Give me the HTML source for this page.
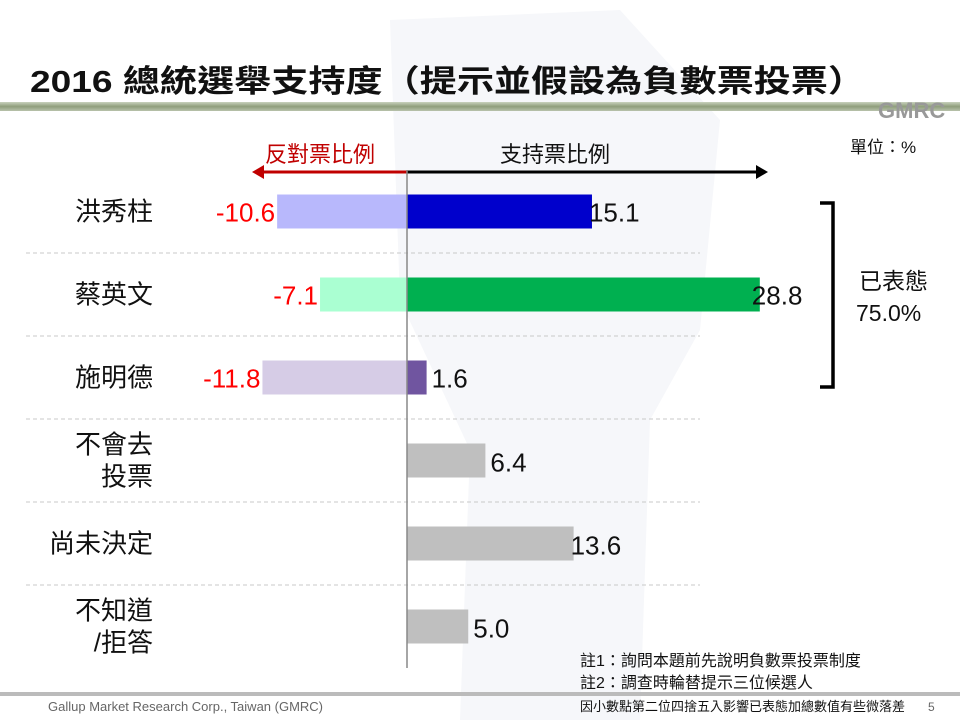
<!DOCTYPE html>
<html><head><meta charset="utf-8">
<style>
body{margin:0;width:960px;height:720px;overflow:hidden;background:#fff;font-family:"Liberation Sans","Noto Sans CJK TC",sans-serif;}
svg text{font-family:"Liberation Sans","Noto Sans CJK TC",sans-serif;}
</style></head>
<body>
<svg id="chart" width="960" height="720" xmlns="http://www.w3.org/2000/svg">
<defs>
<linearGradient id="bar" x1="0" y1="0" x2="0" y2="1">
<stop offset="0" stop-color="#c9d2bd"/><stop offset="0.5" stop-color="#8f9e7c"/><stop offset="1" stop-color="#b8c2ab"/>
</linearGradient>
</defs>
<g fill="#f6f7fa">
<path d="M390 20 L620 10 L720 120 L700 330 L650 420 L640 720 L460 720 L470 450 L400 300 Z"/>
</g>
<text x="30" y="92" font-size="31" font-weight="bold" fill="#111" textLength="835" lengthAdjust="spacingAndGlyphs">2016 總統選舉支持度（提示並假設為負數票投票）</text>
<rect x="0" y="102" width="960" height="9" fill="url(#bar)"/>
<text x="878" y="118" font-size="22" font-weight="bold" fill="#999">GMRC</text>
<text x="850" y="153" font-size="17" fill="#111">單位：%</text>
<text x="265" y="162" font-size="22" fill="#c00000">反對票比例</text>
<text x="500" y="162" font-size="22" fill="#111">支持票比例</text>
<line x1="407" y1="172" x2="262" y2="172" stroke="#c00000" stroke-width="3"/>
<path d="M252 172 L264 165 L264 179 Z" fill="#c00000"/>
<line x1="407" y1="172" x2="758" y2="172" stroke="#000" stroke-width="3"/>
<path d="M768 172 L756 165 L756 179 Z" fill="#000"/>
<g id="plot"></g>
<path d="M820 203 L833 203 L833 387 L820 387" fill="none" stroke="#000" stroke-width="3.5"/>
<text x="859" y="289" font-size="23" fill="#111">已表態</text>
<text x="856" y="321" font-size="23" fill="#111">75.0%</text>
<text x="580" y="666" font-size="16" fill="#111">註1：詢問本題前先說明負數票投票制度</text>
<text x="580" y="688" font-size="16" fill="#111">註2：調查時輪替提示三位候選人</text>
<rect x="0" y="692" width="960" height="4" fill="#bbb"/>
<text x="48" y="711" font-size="13" fill="#666" font-family="Liberation Serif,serif">Gallup Market Research Corp., Taiwan (GMRC)</text>
<text x="580" y="711" font-size="13" fill="#111">因小數點第二位四捨五入影響已表態加總數值有些微落差</text>
<text x="928" y="711" font-size="12" fill="#666">5</text>
</svg>
<script>
const categories=[["洪秀柱"],["蔡英文"],["施明德"],["不會去","投票"],["尚未決定"],["不知道","/拒答"]];
const supportValues=[15.1,28.8,1.6,6.4,13.6,5.0];
const opposeValues=[-10.6,-7.1,-11.8,null,null,null];
const supportColors=["#0000cc","#00b050","#7055a0","#bfbfbf","#bfbfbf","#bfbfbf"];
const opposeColors=["#b8b8fc","#aaffd2","#d6cce6"];
const NS="http://www.w3.org/2000/svg";
const x0=407,scale=12.25,plotTop=170,rowH=83,barH=34;
const xs=v=>x0+v*scale;
const yc=i=>plotTop+rowH*(i+0.5);
const g=document.getElementById('plot');
function mk(t,a){const e=document.createElementNS(NS,t);for(const k in a)e.setAttribute(k,a[k]);g.appendChild(e);return e;}
for(let i=1;i<categories.length;i++){
 const l=mk('line',{x1:26,x2:700,y1:plotTop+rowH*i,y2:plotTop+rowH*i,stroke:'#c8c8c8','stroke-dasharray':'4,3'});
 
 
}
categories.forEach((c,i)=>{
 const y=yc(i);
 c.forEach((line,j)=>{
  const t=mk('text',{x:153,y:y+9+(c.length>1?(j-0.5)*32:0),'font-size':26,'text-anchor':'end',fill:'#111'});
  t.textContent=line;
  
  
 });
 const v=supportValues[i];
 const r=mk('rect',{x:x0,y:y-barH/2,width:xs(v)-x0,height:barH,fill:supportColors[i]});
 
 
 const tv=mk('text',{x:xs(v)+(v<10?5:(v>20?-8:-3)),y:y+10+(i>=3?1:0),'font-size':26,fill:'#111'});
 tv.textContent=v.toFixed(1);
 
 
 const o=opposeValues[i];
 if(o!==null){
  const ro=mk('rect',{x:xs(o),y:y-barH/2,width:x0-xs(o),height:barH,fill:opposeColors[i]});
  
  
  const to=mk('text',{x:xs(o)-2,y:y+10,'font-size':26,fill:'#ff0000','text-anchor':'end'});
  to.textContent=o.toFixed(1);
  
  
 }
});
const ax=mk('line',{x1:x0,x2:x0,y1:plotTop,y2:plotTop+rowH*6,stroke:'#888','stroke-width':1.5});


</script>
</body></html>
